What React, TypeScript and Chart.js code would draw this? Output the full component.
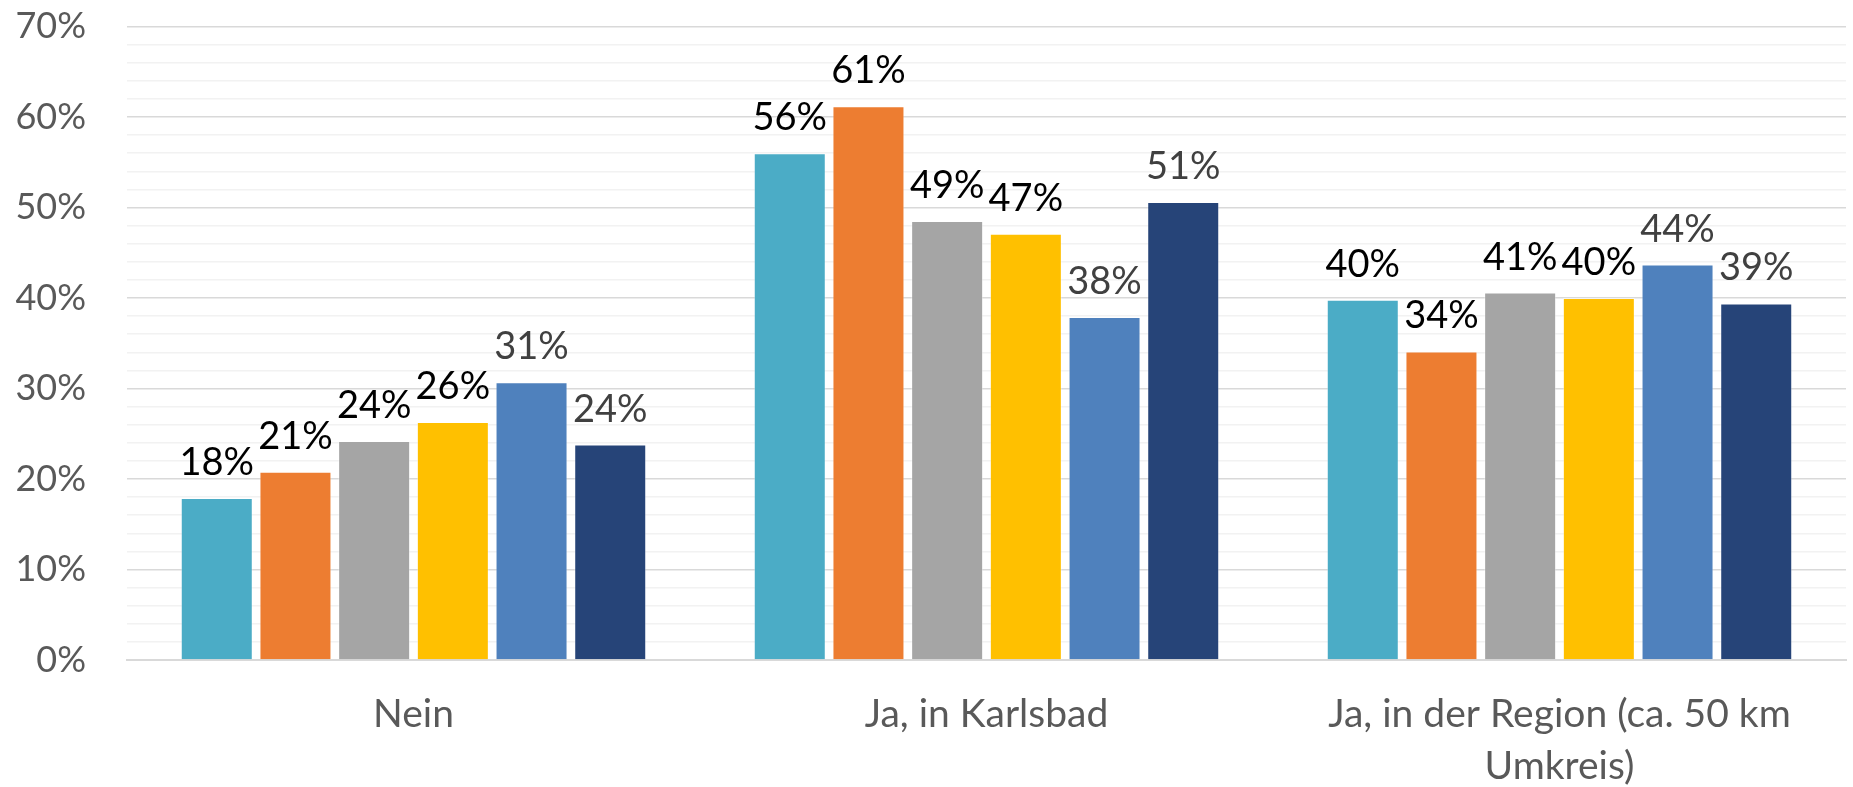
import React, { useEffect, useRef } from "react";
import { Chart, registerables } from "chart.js";

Chart.register(...registerables);

const categories: (string | string[])[] = [
  "Nein",
  "Ja, in Karlsbad",
  ["Ja, in der Region (ca. 50 km", "Umkreis)"],
];

const seriesNames = ["Serie 1", "Serie 2", "Serie 3", "Serie 4", "Serie 5", "Serie 6"];
const series1 = [17.9, 56.0, 39.8];
const series2 = [20.8, 61.2, 34.1];
const series3 = [24.2, 48.5, 40.6];
const series4 = [26.3, 47.1, 40.0];
const series5 = [30.7, 37.9, 43.7];
const series6 = [23.8, 50.6, 39.4];
const seriesColors = ["#4BACC6", "#ED7D31", "#A5A5A5", "#FFC000", "#4F81BD", "#264478"];
const labelColors = ["#000000", "#000000", "#000000", "#000000", "#404040", "#404040"];

const FONT = "Lato";

const barLabelPlugin = {
  id: "barLabels",
  afterDatasetsDraw(chart: any) {
    const ctx = chart.ctx;
    ctx.save();
    ctx.font = `38px ${FONT}`;
    ctx.textAlign = "center";
    ctx.textBaseline = "alphabetic";
    chart.data.datasets.forEach((ds: any, di: number) => {
      const meta = chart.getDatasetMeta(di);
      meta.data.forEach((bar: any, i: number) => {
        const v = ds.data[i] as number;
        ctx.fillStyle = labelColors[di];
        ctx.fillText(`${Math.round(v)}%`, bar.x, bar.y - 23);
      });
    });
    ctx.restore();
  },
};

export default function App() {
  const ref = useRef<HTMLCanvasElement | null>(null);
  useEffect(() => {
    if (!ref.current) return;
    const all = [series1, series2, series3, series4, series5, series6];
    const chart = new Chart(ref.current, {
      type: "bar",
      data: {
        labels: categories,
        datasets: all.map((d, i) => ({
          label: seriesNames[i],
          data: d,
          backgroundColor: seriesColors[i],
          borderColor: "rgba(255,255,255,0.35)",
          borderWidth: 1,
          categoryPercentage: 0.824,
          barPercentage: 0.915,
        })),
      },
      options: {
        animation: false,
        responsive: true,
        maintainAspectRatio: false,
        layout: { padding: { left: 0, right: 7, top: 26.5, bottom: 0 } },
        plugins: {
          legend: { display: false },
          tooltip: { enabled: false },
        },
        scales: {
          x: {
            grid: { display: false, drawTicks: false },
            border: { display: true, color: "#d9d9d9", width: 2 },
            ticks: {
              color: "#595959",
              font: { family: FONT, size: 39, lineHeight: 1.34 },
              padding: 28,
              maxRotation: 0,
              autoSkip: false,
            },
            afterFit: (scale: any) => {
              scale.height = 127;
            },
          },
          y: {
            min: 0,
            max: 70,
            border: { display: false },
            grid: {
              drawTicks: false,
              lineWidth: 1.5,
              color: (c: any) => (c.tick && c.tick.value % 10 === 0 ? "#d9d9d9" : "#f2f2f2"),
            },
            ticks: {
              stepSize: 2,
              autoSkip: false,
              color: "#595959",
              font: { family: FONT, size: 36 },
              padding: 41,
              callback: (v: any) => (Number(v) % 10 === 0 ? `${v}%` : ""),
            },
            afterFit: (scale: any) => {
              scale.width = 127;
              scale.paddingTop = 0;
              scale.paddingBottom = 0;
            },
          },
        },
      },
      plugins: [barLabelPlugin],
    });
    return () => chart.destroy();
  }, []);
  return (
    <div style={{ position: "fixed", left: 0, top: 0, width: 1853, height: 787, background: "#fff" }}>
      <canvas ref={ref} />
    </div>
  );
}
